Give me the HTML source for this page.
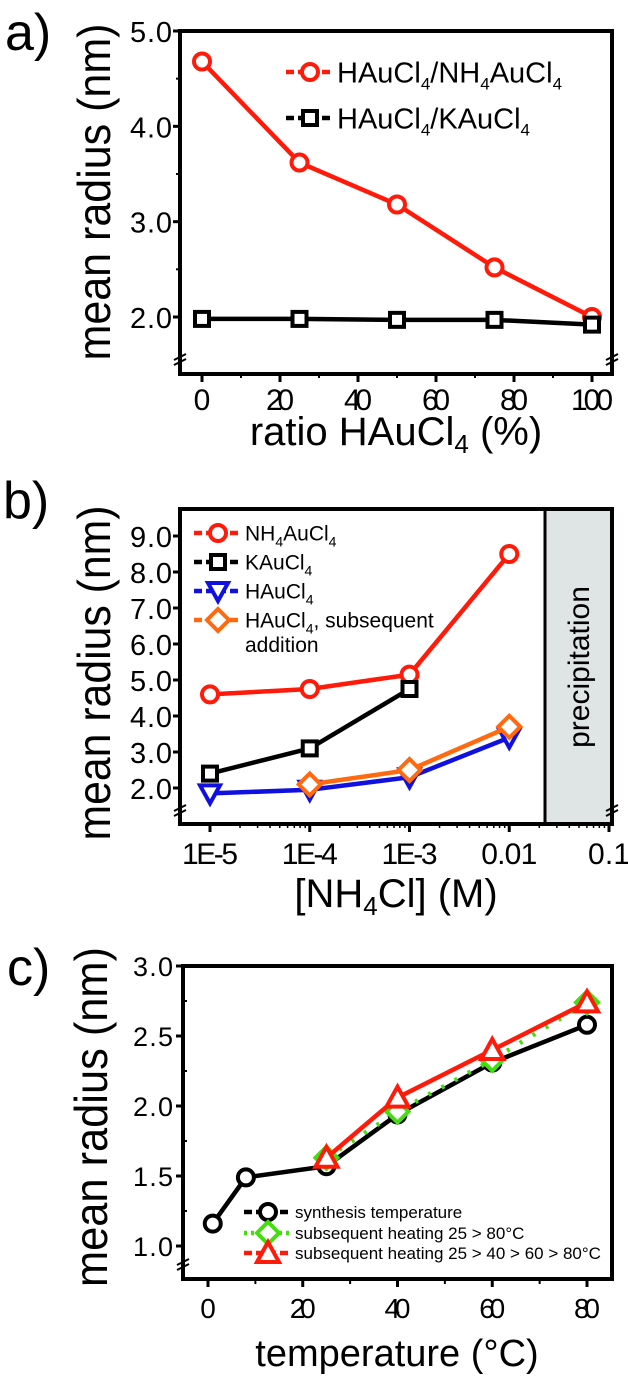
<!DOCTYPE html>
<html><head><meta charset="utf-8"><style>
html,body{margin:0;padding:0;background:#fff;}
svg{display:block;font-family:"Liberation Sans",Arial,sans-serif;}
</style></head><body>
<svg id="fig" width="628" height="1385" viewBox="0 0 628 1385" xmlns="http://www.w3.org/2000/svg"></svg>
<script>
// ---- Panel a data ----
const aX = [0, 25, 50, 75, 100];
const aNH4 = [4.68, 3.62, 3.18, 2.52, 2.0];
const aK = [1.98, 1.98, 1.97, 1.97, 1.92];
const aXTicks = [0, 20, 40, 60, 80, 100];
const aYTicks = [2.0, 3.0, 4.0, 5.0];
// ---- Panel b data ----
const bXlog = [-5, -4, -3, -2];
const bNH4 = [4.6, 4.75, 5.15, 8.5];
const bK = [2.4, 3.1, 4.75];
const bH = [1.85, 1.95, 2.3, 3.4];
const bHsubX = [-4, -3, -2];
const bHsub = [2.1, 2.5, 3.7];
const bXTickLabels = ["1E-5", "1E-4", "1E-3", "0.01", "0.1"];
const bYTicks = [2, 3, 4, 5, 6, 7, 8, 9];
// ---- Panel c data ----
const cSynX = [1, 8, 25, 40, 60, 80];
const cSyn = [1.16, 1.49, 1.57, 1.94, 2.31, 2.58];
const cHeatX = [25, 40, 60, 80];
const cHeat1 = [1.63, 1.96, 2.33, 2.74];
const cHeat2 = [1.63, 2.06, 2.4, 2.74];
const cXTicks = [0, 20, 40, 60, 80];
const cYTicks = [1.0, 1.5, 2.0, 2.5, 3.0];

const svg = document.getElementById('fig');
const NS = 'http://www.w3.org/2000/svg';
function mk(tag, attrs, parent) {
  const e = document.createElementNS(NS, tag);
  for (const k in attrs) e.setAttribute(k, attrs[k]);
  (parent || svg).appendChild(e);
  return e;
}
function txt(s, x, y, size, anchor, parent) {
  const t = mk('text', {x: x, y: y, 'font-size': size, 'text-anchor': anchor || 'start', fill: '#000'}, parent);
  t.innerHTML = s;
  return t;
}
function scale(d0, d1, r0, r1) { return v => r0 + (v - d0) * (r1 - r0) / (d1 - d0); }
function marker(type, x, y, color, g) {
  let e;
  const sw = 4;
  if (type === 'circle') e = mk('circle', {cx: x, cy: y, r: 8, fill: '#fff', stroke: color, 'stroke-width': sw}, g);
  else if (type === 'square') e = mk('rect', {x: x - 7, y: y - 7, width: 14, height: 14, fill: '#fff', stroke: color, 'stroke-width': sw}, g);
  else if (type === 'tridown') e = mk('polygon', {points: `${x-10},${y-8} ${x+10},${y-8} ${x},${y+10}`, fill: '#fff', stroke: color, 'stroke-width': sw}, g);
  else if (type === 'triup') e = mk('polygon', {points: `${x-11},${y+9} ${x+11},${y+9} ${x},${y-11}`, fill: '#fff', stroke: color, 'stroke-width': sw}, g);
  else if (type === 'diamond') e = mk('polygon', {points: `${x},${y-11} ${x+11},${y} ${x},${y+11} ${x-11},${y}`, fill: '#fff', stroke: color, 'stroke-width': sw}, g);
  
  
}
function series(name, xs, ys, sx, sy, color, type, dash) {
  const g = mk('g', {});
  
  
  const pts = xs.map((v, i) => `${sx(v)},${sy(ys[i])}`).join(' ');
  const pl = mk('polyline', {points: pts, fill: 'none', stroke: color, 'stroke-width': 4.5}, g);
  if (dash) pl.setAttribute('stroke-dasharray', dash);
  xs.forEach((v, i) => marker(type, sx(v), sy(ys[i]), color, g));
  return g;
}
function legendEntry(name, x, y, color, type, label, size, dash) {
  const g = mk('g', {});
  
  
  mk('line', {x1: x - 24, y1: y, x2: x + 24, y2: y, stroke: color, 'stroke-width': 4.5, 'stroke-dasharray': dash || '8,4'}, g);
  marker(type, x, y, color, g);
  txt(label, x + 27, y + size * 0.36, size, 'start', g);
}
function breakMark(x, y, g) {
  mk('line', {x1: x - 6, y1: y + 3, x2: x + 6, y2: y - 3, stroke: '#000', 'stroke-width': 2}, g);
  mk('line', {x1: x - 6, y1: y + 8, x2: x + 6, y2: y + 2, stroke: '#000', 'stroke-width': 2}, g);
}
function frame(name, L, R, T, B) {
  const f = mk('rect', {x: L, y: T, width: R - L, height: B - T, fill: 'none', stroke: '#000', 'stroke-width': 4});
  
  
}
function ylabel(name, s, cx, cy, len) {
  const t = mk('text', {x: 0, y: 0, 'font-size': 46, 'text-anchor': 'middle', transform: `translate(${cx},${cy}) rotate(-90)`, textLength: len, lengthAdjust: 'spacingAndGlyphs'});
  t.textContent = s;
  
  
}

// ================= Panel a =================
{
  const L = 180, R = 612, T = 31, B = 374;
  const sx = scale(0, 100, 202, 592);
  const sy = scale(2.0, 5.0, 317, 31);
  let t = txt('a)', 5, 50, 52);  
  const ax = mk('g', {});  
  aXTicks.forEach(v => { mk('line', {x1: sx(v), y1: B, x2: sx(v), y2: B + 8, stroke: '#000', 'stroke-width': 3}, ax); txt(String(v), sx(v), B + 36, 30, 'middle', ax).setAttribute('textLength', String(v).length * 14); });
  aXTicks.slice(0, -1).forEach(v => mk('line', {x1: sx(v + 10), y1: B, x2: sx(v + 10), y2: B + 4, stroke: '#000', 'stroke-width': 2}, ax));
  aYTicks.forEach(v => { mk('line', {x1: L - 7, y1: sy(v), x2: L, y2: sy(v), stroke: '#000', 'stroke-width': 3}, ax); txt(v.toFixed(1), L - 8, sy(v) + 11, 29, 'end', ax).setAttribute('textLength', 42); });
  [2.5, 3.5, 4.5].forEach(v => mk('line', {x1: L - 4, y1: sy(v), x2: L, y2: sy(v), stroke: '#000', 'stroke-width': 2}, ax));
  frame('panel-a-frame', L, R, T, B);
  breakMark(L, 357, ax); breakMark(R, 357, ax);
  series('series-hauCl4-nh4aucl4', aX, aNH4, sx, sy, '#ff1a0a', 'circle');
  series('series-hauCl4-kaucl4', aX, aK, sx, sy, '#000', 'square');
  legendEntry('legend-nh4aucl4', 310, 72, '#ff1a0a', 'circle', 'HAuCl<tspan font-size="17" dy="7">4</tspan><tspan dy="-7">/NH</tspan><tspan font-size="17" dy="7">4</tspan><tspan dy="-7">AuCl</tspan><tspan font-size="17" dy="7">4</tspan>', 29);
  legendEntry('legend-kaucl4', 310, 118, '#000', 'square', 'HAuCl<tspan font-size="17" dy="7">4</tspan><tspan dy="-7">/KAuCl</tspan><tspan font-size="17" dy="7">4</tspan>', 29);
  ylabel('panel-a-y-axis-title', 'mean radius (nm)', 110, 192, 337);
  t = txt('ratio HAuCl<tspan font-size="26" dy="8">4</tspan><tspan dy="-8"> (%)</tspan>', 396, 445, 40, 'middle');
   
}

// ================= Panel b =================
{
  const L = 180, R = 612, T = 509, B = 824;
  const sx = scale(-5, -1, 210, 609);
  const sy = scale(2, 9, 788, 536);
  let t = txt('b)', 3, 518, 52);  
  const pr = mk('rect', {x: 545, y: T, width: R - 545, height: B - T, fill: '#dfe4e4', stroke: '#000', 'stroke-width': 3});
   
  t = mk('text', {x: 0, y: 0, 'font-size': 30, 'text-anchor': 'middle', transform: 'translate(589,667) rotate(-90)'});
  t.textContent = 'precipitation';  
  const ax = mk('g', {});  
  bXTickLabels.forEach((s, i) => { const v = -5 + i; mk('line', {x1: sx(v), y1: B, x2: sx(v), y2: B + 8, stroke: '#000', 'stroke-width': 3}, ax); txt(s, sx(v), B + 40, 30, 'middle', ax).setAttribute('textLength', s.length * 14); });
  for (let d = -5; d < -1; d++) for (let m = 2; m < 10; m++) { const xx = sx(d + Math.log10(m)); mk('line', {x1: xx, y1: B, x2: xx, y2: B + 4, stroke: '#000', 'stroke-width': 1.5}, ax); }
  bYTicks.forEach(v => { mk('line', {x1: L - 7, y1: sy(v), x2: L, y2: sy(v), stroke: '#000', 'stroke-width': 3}, ax); txt(v.toFixed(1), L - 8, sy(v) + 11, 29, 'end', ax).setAttribute('textLength', 42); });
  frame('panel-b-frame', L, R, T, B);
  breakMark(L, 808, ax); breakMark(R, 808, ax);
  series('series-nh4aucl4', bXlog, bNH4, sx, sy, '#ff1a0a', 'circle');
  series('series-kaucl4', bXlog.slice(0, 3), bK, sx, sy, '#000', 'square');
  series('series-haucl4', bXlog, bH, sx, sy, '#1010e0', 'tridown');
  series('series-haucl4-subsequent', bHsubX, bHsub, sx, sy, '#ff6a10', 'diamond');
  legendEntry('legend-nh4aucl4', 218, 533, '#ff1a0a', 'circle', 'NH<tspan font-size="14" dy="6">4</tspan><tspan dy="-6">AuCl</tspan><tspan font-size="14" dy="6">4</tspan>', 21);
  legendEntry('legend-kaucl4', 218, 562, '#000', 'square', 'KAuCl<tspan font-size="14" dy="6">4</tspan>', 21);
  legendEntry('legend-haucl4', 218, 591, '#1010e0', 'tridown', 'HAuCl<tspan font-size="14" dy="6">4</tspan>', 21);
  legendEntry('legend-haucl4-subsequent', 218, 620, '#ff6a10', 'diamond', 'HAuCl<tspan font-size="14" dy="6">4</tspan><tspan dy="-6">, subsequent</tspan>', 21);
  txt('addition', 245, 652, 21);
  ylabel('panel-b-y-axis-title', 'mean radius (nm)', 110, 673, 335);
  t = txt('[NH<tspan font-size="26" dy="8">4</tspan><tspan dy="-8">Cl] (M)</tspan>', 396, 907, 40, 'middle');
   
}

// ================= Panel c =================
{
  const L = 183, R = 612, T = 966, B = 1279;
  const sx = scale(0, 80, 208, 587);
  const sy = scale(1.0, 3.0, 1246, 966);
  let t = txt('c)', 7, 985, 52);  
  const ax = mk('g', {});  
  cXTicks.forEach(v => { mk('line', {x1: sx(v), y1: B, x2: sx(v), y2: B + 8, stroke: '#000', 'stroke-width': 3}, ax); txt(String(v), sx(v), B + 39, 28, 'middle', ax).setAttribute('textLength', String(v).length * 13); });
  cXTicks.forEach(v => mk('line', {x1: sx(v + 10), y1: B, x2: sx(v + 10), y2: B + 5, stroke: '#000', 'stroke-width': 2}, ax));
  cYTicks.forEach(v => { mk('line', {x1: L - 7, y1: sy(v), x2: L, y2: sy(v), stroke: '#000', 'stroke-width': 3}, ax); txt(v.toFixed(1), L - 10, sy(v) + 10, 27, 'end', ax).setAttribute('textLength', 40); });
  [1.25, 1.75, 2.25, 2.75].forEach(v => mk('line', {x1: L, y1: sy(v), x2: L + 4, y2: sy(v), stroke: '#000', 'stroke-width': 2}, ax));
  frame('panel-c-frame', L, R, T, B);
  breakMark(L, 1262, ax);
  series('series-synthesis-temperature', cSynX, cSyn, sx, sy, '#000', 'circle');
  series('series-heating-25-80', cHeatX, cHeat1, sx, sy, '#44dd10', 'diamond', '3,12');
  series('series-heating-25-40-60-80', cHeatX, cHeat2, sx, sy, '#ff1a0a', 'triup');
  legendEntry('legend-synthesis', 268, 1212, '#000', 'circle', 'synthesis temperature', 17);
  legendEntry('legend-heating-25-80', 268, 1233, '#44dd10', 'diamond', 'subsequent heating 25 &gt; 80°C', 17, '3,4');
  legendEntry('legend-heating-25-40-60-80', 268, 1253, '#ff1a0a', 'triup', 'subsequent heating 25 &gt; 40 &gt; 60 &gt; 80°C', 17);
  ylabel('panel-c-y-axis-title', 'mean radius (nm)', 107, 1117, 340);
  t = txt('temperature (°C)', 397, 1366, 38, 'middle');
   
}
</script>
</body></html>
